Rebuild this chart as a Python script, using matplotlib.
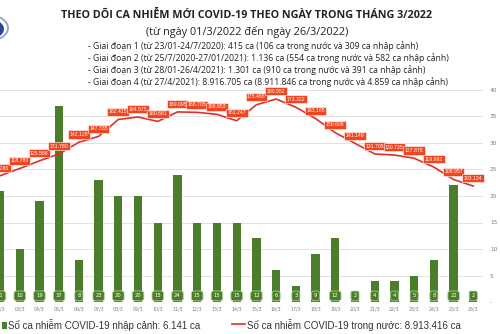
"""Daily COVID-19 cases in Vietnam, March 2022 (imported bars + domestic line)."""

import matplotlib

matplotlib.use("Agg")
from matplotlib import pyplot as plt
from matplotlib.lines import Line2D
from matplotlib.patches import Circle, Rectangle

# data (01/3 is cropped out of the image)
days = [
    "02/3", "03/3", "04/3", "05/3", "06/3", "07/3", "08/3", "09/3", "10/3",
    "11/3", "12/3", "13/3", "14/3", "15/3", "16/3", "17/3", "18/3", "19/3",
    "20/3", "21/3", "22/3", "23/3", "24/3", "25/3", "26/3",
]
imported = [21, 10, 19, 37, 8, 23, 20, 20, 15, 24, 15, 15, 15, 12, 6, 3, 9,
            12, 2, 4, 4, 5, 8, 22, 2]
domestic = [112280, 118780, 125568, 131780, 142128, 147335, 162415, 164575,
            160661, 169095, 168705, 166953, 161247, 175468, 180552, 173322,
            163165, 150606, 141149, 131705, 130735, 127878, 119992, 108957,
            103124]
yticks = [0, 5, 10, 15, 20, 25, 30, 35, 40]
ytick_labels = ["-", "5", "10", "15", "20", "25", "30", "35", "40"]

title = "THEO DÕI CA NHIỄM MỚI COVID-19 THEO NGÀY TRONG THÁNG 3/2022"
subtitle = "(từ ngày 01/3/2022 đến ngày 26/3/2022)"
phases = [
    "- Giai đoạn 1 (từ 23/01-24/7/2020): 415 ca (106 ca trong nước và 309 ca nhập cảnh)",
    "- Giai đoạn 2 (từ 25/7/2020-27/01/2021): 1.136 ca (554 ca trong nước và 582 ca nhập cảnh)",
    "- Giai đoạn 3 (từ 28/01-26/4/2021): 1.301 ca (910 ca trong nước và 391 ca nhập cảnh)",
    "- Giai đoạn 4 (từ 27/4/2021): 8.916.705 ca (8.911.846 ca trong nước và 4.859 ca nhập cảnh)",
]
legend_bar = "Số ca nhiễm COVID-19 nhập cảnh: 6.141 ca"
legend_line = "Số ca nhiễm COVID-19 trong nước: 8.913.416 ca"

GREEN = "#4b7d2a"
GREEN_EDGE = "#a9d18e"
RED = "#e0302a"
RED_BOX = "#f2441f"
W, H = 500, 334


def fx(p):
    return p / W


def fy(p):
    return 1 - p / H


fig = plt.figure(figsize=(5, 3.34), dpi=100)
fig.patch.set_facecolor("white")

# plot area: y=0 at px 302, y=40 at px 90, right edge at px 483
ax = fig.add_axes([0, fy(302), fx(483), fy(90) - fy(302)])
x = list(range(len(days)))
ax.bar(x, imported, width=0.42, color=GREEN, zorder=2)
for xi, v in zip(x, imported):
    ax.text(xi, 1.15, str(v), ha="center", va="center", fontsize=3.8,
            color="white", zorder=3,
            bbox=dict(boxstyle="round,pad=0.45,rounding_size=0.45",
                      fc=GREEN, ec=GREEN_EDGE, lw=0.6))
ax.set_xlim(0.022, 24.49)
ax.set_ylim(0, 40)
ax.set_xticks(x)
ax.set_xticklabels(days, fontsize=3.4, color="#7f7f7f")
ax.grid(axis="y", color="#dcdcdc", lw=0.6, zorder=0)
for s in ax.spines.values():
    s.set_visible(False)

# domestic cases on a hidden second scale
ax2 = ax.twinx()
ax2.plot(x, domestic, color=RED, lw=1.2, zorder=4)
for xi, v in zip(x, domestic):
    lbl = f"{v / 1000:.3f}"
    ax2.annotate(lbl, (xi, v), xytext=(0, 5.6), textcoords="offset points",
                 ha="center", va="center", fontsize=3.7, color="white",
                 family="Liberation Sans", zorder=5,
                 bbox=dict(boxstyle="square,pad=0.3", fc=RED_BOX, ec="white",
                           lw=0.4))
ax2.set_ylim(0, 188600)
ax2.set_yticks([])
for s in ax2.spines.values():
    s.set_visible(False)

# twinx moves the first axis' ticks to the left, put them back on the right
ax.set_yticks(yticks)
ax.set_yticklabels(ytick_labels, fontsize=4.2, color="#7f7f7f")
ax.yaxis.tick_right()
ax.tick_params(length=0, pad=3)
ax.tick_params(axis="y", pad=5)

# header text
fig.text(0.494, fy(15), title, ha="center", va="center", fontsize=7.75,
         fontweight="bold", family=["Open Sans", "DejaVu Sans"], color="#222222")
fig.text(0.495, fy(32), subtitle, ha="center", va="center", fontsize=7.8,
         family=["Open Sans", "DejaVu Sans"], color="#222222")
for i, line in enumerate(phases):
    fig.text(fx(88), fy(46 + 12 * i), line, ha="left", va="center",
             fontsize=6.2, family=["Open Sans", "DejaVu Sans"], color="#222222")

# partial logo at the top-left corner
fig.add_artist(Circle((fx(-11), fy(28)), 19 / W, transform=fig.transFigure,
                      fc="white", ec="#9aa6cc", lw=1.4))
fig.add_artist(Circle((fx(-11), fy(29)), 15 / W, transform=fig.transFigure,
                      fc="#2d4596", ec="none"))

# legend
fig.add_artist(Rectangle((fx(2), fy(329)), 5 / W, 7 / H,
                         transform=fig.transFigure, fc=GREEN, ec="none"))
fig.text(fx(8), fy(325), legend_bar, ha="left", va="center", fontsize=7,
         family=["Liberation Sans", "DejaVu Sans"], color="#333333")
fig.add_artist(Line2D([fx(232), fx(245)], [fy(324), fy(324)],
                      transform=fig.transFigure, color=RED, lw=1.2))
fig.text(fx(247), fy(325), legend_line, ha="left", va="center", fontsize=7,
         family=["Liberation Sans", "DejaVu Sans"], color="#333333")

fig.savefig("out.png", dpi=100, facecolor="white")
